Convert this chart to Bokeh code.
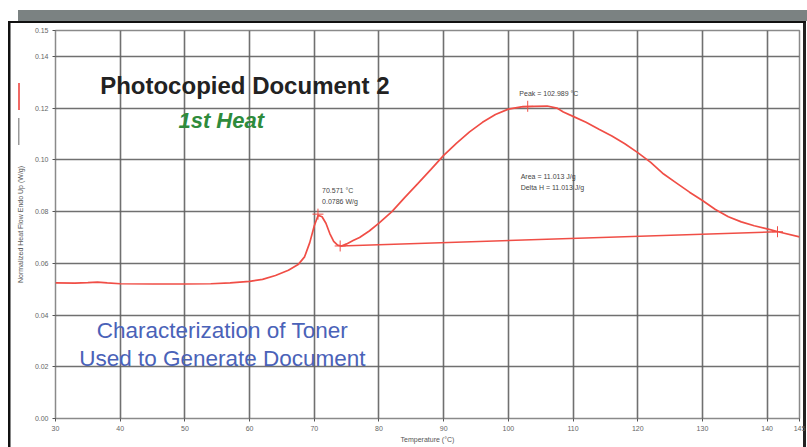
from bokeh.plotting import figure
from bokeh.models import FixedTicker, PrintfTickFormatter, Label, Range1d
from bokeh.embed import file_html
from bokeh.resources import INLINE

# ---- data ----
temperature = [30, 33, 35, 36.5, 38, 40, 45, 50, 54, 57, 60, 62, 64, 66, 67.5, 68.5,
               69.3, 70.0, 70.6, 71.2, 71.8, 72.4, 73.0, 73.6, 74.2, 75, 76, 77, 78.5,
               80, 82, 84, 86, 88, 90, 92, 94, 96, 98, 100, 102, 104, 106, 107.5, 108.5,
               110, 112, 114, 116, 118, 120, 122, 124, 126, 128, 130, 132, 134, 136, 138,
               140, 142, 145]
heat_flow = [0.0524, 0.0523, 0.0525, 0.0527, 0.0524, 0.0521, 0.0520, 0.0520, 0.0521, 0.0524,
             0.0530, 0.0538, 0.0553, 0.0573, 0.0595, 0.0625, 0.0680, 0.0745, 0.0786, 0.0780,
             0.0755, 0.0715, 0.0685, 0.0670, 0.0667, 0.0675, 0.0688, 0.0700, 0.0725, 0.0755,
             0.0800, 0.0855, 0.0908, 0.0962, 0.1017, 0.1065, 0.1108, 0.1145, 0.1175, 0.1196,
             0.1205, 0.1207, 0.1208, 0.1200, 0.1185, 0.1168, 0.1145, 0.1118, 0.1092, 0.1062,
             0.1028, 0.0990, 0.0945, 0.0910, 0.0875, 0.0843, 0.0808, 0.0780, 0.0760, 0.0745,
             0.0733, 0.0720, 0.0702]
baseline_temp = [74.0, 141.6]
baseline_flow = [0.0667, 0.0722]
marker_temp = [70.571, 74.0, 102.989, 141.6]
marker_flow = [0.0790, 0.0667, 0.1207, 0.0722]
x_ticks = [30, 40, 50, 60, 70, 80, 90, 100, 110, 120, 130, 140, 145]
y_ticks = [0.00, 0.02, 0.04, 0.06, 0.08, 0.10, 0.12, 0.14, 0.15]

RED = "#f04e46"
GRID = "#606060"
FONT = "Liberation Sans"

W, H = 807, 447
p = figure(width=W, height=H, output_backend="svg", toolbar_location=None,
           x_range=Range1d(30, 145), y_range=Range1d(0, 0.15),
           min_border_left=55, min_border_right=8, min_border_top=30, min_border_bottom=29)
p.background_fill_color = "white"
p.border_fill_color = None
p.outline_line_color = "#8a8a8a"
p.outline_line_width = 1.5


def band(color, x, y, w, h):
    return f"linear-gradient({color},{color}) {x}px {y}px / {w}px {h}px no-repeat"


# window decoration drawn behind the transparent border area of the canvas
p.styles = {"background": ", ".join([
    band("#7b8282", 18, 10, 789, 11),   # grey title bar of the scanned window
    band("#111111", 8, 21, 798, 2),     # black frame, top
    band("#111111", 8, 21, 2.5, 426),   # black frame, left
    band("#222222", 803, 21, 3, 426),   # black frame, right
    band("#f06a66", 18, 83, 2, 27),     # red legend stroke
    band("#9a9a9a", 18, 118, 1.5, 27),  # grey legend stroke
    "#ffffff",
])}

# axes
p.xaxis.ticker = FixedTicker(ticks=x_ticks)
p.yaxis.ticker = FixedTicker(ticks=y_ticks)
p.yaxis.formatter = PrintfTickFormatter(format="%.2f")
p.xaxis.formatter = PrintfTickFormatter(format="%d")
for ax in (p.xaxis[0], p.yaxis[0]):
    ax.axis_line_color = None
    ax.major_tick_line_color = "#555555"
    ax.major_tick_out = 3
    ax.major_tick_in = 0
    ax.minor_tick_line_color = None
    ax.major_label_text_font = FONT
    ax.major_label_text_font_size = "7px"
    ax.major_label_text_color = "#666666"
    ax.axis_label_text_font = FONT
    ax.axis_label_text_font_size = "7px"
    ax.axis_label_text_font_style = "normal"
    ax.axis_label_text_color = "#555555"
    ax.major_label_standoff = 4
    ax.axis_label_standoff = 2
p.xaxis.axis_label = "Temperature (°C)"
p.yaxis.axis_label = "Normalized Heat Flow Endo Up (W/g)"
p.yaxis.axis_label_standoff = 8

p.xgrid.ticker = FixedTicker(ticks=x_ticks)
p.ygrid.ticker = FixedTicker(ticks=y_ticks)
for g in (p.xgrid[0], p.ygrid[0]):
    g.grid_line_color = GRID
    g.grid_line_width = 1.6
    g.grid_line_alpha = 0.9

# curve, baseline, markers
p.line(temperature, heat_flow, line_color=RED, line_width=1.7)
p.line(baseline_temp, baseline_flow, line_color=RED, line_width=1.5)
p.scatter(marker_temp, marker_flow, marker="cross", size=11, line_color=RED, line_width=1)

# annotations
small = dict(text_font=FONT, text_font_size="7px", text_color="#444444", text_baseline="middle")
p.add_layout(Label(x=71.2, y=0.0882, text="70.571 °C", **small))
p.add_layout(Label(x=71.2, y=0.0839, text="0.0786 W/g", **small))
p.add_layout(Label(x=101.7, y=0.1257, text="Peak = 102.989 °C", **small))
p.add_layout(Label(x=101.9, y=0.0936, text="Area = 11.013 J/g", **small))
p.add_layout(Label(x=101.9, y=0.0893, text="Delta H = 11.013 J/g", **small))

p.add_layout(Label(x=36.9, y=0.1287, text="Photocopied Document 2", text_font=FONT,
                   text_font_size="24px", text_font_style="bold", text_color="#222222",
                   text_baseline="middle"))
p.add_layout(Label(x=49.0, y=0.1152, text="1st Heat", text_font=FONT,
                   text_font_size="22px", text_font_style="bold italic", text_color="#2e8b3c",
                   text_baseline="middle"))
p.add_layout(Label(x=55.8, y=0.0340, text="Characterization of Toner", text_font=FONT,
                   text_font_size="22.5px", text_color="#4a62b8", text_align="center",
                   text_baseline="middle"))
p.add_layout(Label(x=55.8, y=0.0232, text="Used to Generate Document", text_font=FONT,
                   text_font_size="22.5px", text_color="#4a62b8", text_align="center",
                   text_baseline="middle"))

open("out.html", "w").write(file_html(p, INLINE))
